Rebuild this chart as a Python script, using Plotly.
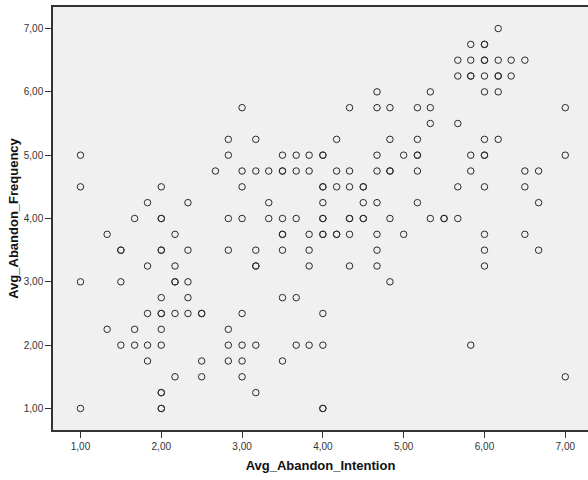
import plotly.graph_objects as go

# Avg_Abandon_Intention (x) and Avg_Abandon_Frequency (y), one entry per respondent
intention = [
    6.17,
    5.83, 6.0, 6.0,
    5.67, 5.83, 6.0, 6.0, 6.17, 6.33, 6.5,
    5.67, 5.83, 5.83, 6.0, 6.17, 6.17, 6.33,
    4.67, 5.33, 6.0, 6.17,
    3.0, 4.33, 4.67, 4.83, 5.17, 5.33, 7.0,
    5.33, 5.67,
    2.83, 3.17, 4.17, 4.83, 5.17, 6.0, 6.17,
    1.0, 2.83, 3.5, 3.67, 3.83, 4.0, 4.0, 4.67, 5.0, 5.17, 5.17, 5.83, 6.0, 6.0, 7.0,
    2.67, 3.0, 3.17, 3.33, 3.5, 3.5, 3.67, 3.83, 4.17, 4.33, 4.67, 4.83, 4.83, 5.17, 5.83, 6.5, 6.67,
    1.0, 2.0, 3.0, 4.0, 4.0, 4.17, 4.33, 4.5, 4.5, 5.67, 6.0, 6.5,
    1.83, 2.33, 3.33, 4.0, 4.5, 4.67, 5.17, 6.67,
    1.67, 2.0, 2.0, 2.83, 3.0, 3.33, 3.5, 3.67, 4.0, 4.0, 4.33, 4.33, 4.5, 4.5, 4.83, 5.33, 5.5, 5.5, 5.67,
    1.33, 2.17, 3.5, 3.5, 3.83, 4.0, 4.0, 4.17, 4.17, 4.33, 4.67, 5.0, 6.0, 6.5,
    1.5, 1.5, 2.0, 2.0, 2.33, 2.83, 3.17, 3.5, 3.83, 4.67, 6.0, 6.67,
    1.83, 2.17, 3.17, 3.17, 3.83, 4.33, 4.67, 6.0,
    1.0, 1.5, 2.17, 2.17, 2.33, 4.83,
    2.0, 2.33, 3.5, 3.67,
    1.83, 2.0, 2.0, 2.17, 2.33, 2.5, 2.5, 3.0, 4.0,
    1.33, 1.67, 2.0, 2.83,
    1.5, 1.67, 1.83, 2.0, 2.83, 3.0, 3.17, 3.67, 3.83, 4.0, 5.83,
    1.83, 2.5, 2.83, 3.0, 3.5,
    2.17, 2.5, 3.0, 7.0,
    2.0, 2.0, 3.17,
    1.0, 2.0, 2.0, 4.0, 4.0,
]
frequency = (
    [7.0] * 1 + [6.75] * 3 + [6.5] * 7 + [6.25] * 7 + [6.0] * 4 + [5.75] * 7
    + [5.5] * 2 + [5.25] * 7 + [5.0] * 15 + [4.75] * 17 + [4.5] * 12 + [4.25] * 8
    + [4.0] * 19 + [3.75] * 14 + [3.5] * 12 + [3.25] * 8 + [3.0] * 6 + [2.75] * 4
    + [2.5] * 9 + [2.25] * 4 + [2.0] * 11 + [1.75] * 5 + [1.5] * 4 + [1.25] * 3
    + [1.0] * 5
)
tick_vals = [1, 2, 3, 4, 5, 6, 7]
x_title = "Avg_Abandon_Intention"
y_title = "Avg_Abandon_Frequency"

fig = go.Figure(
    go.Scatter(
        x=intention,
        y=frequency,
        mode="markers",
        marker=dict(symbol="circle-open", size=6.5, color="#2a2a2a", line=dict(width=1.0, color="#2a2a2a")),
        hoverinfo="x+y",
    )
)

font_family = "Liberation Sans, Arial, sans-serif"
fig.update_layout(
    width=588,
    height=480,
    margin=dict(l=53, r=0, t=7, b=50),
    paper_bgcolor="white",
    plot_bgcolor="#F0F0F0",
    separators=",.",
    showlegend=False,
    font=dict(family=font_family, size=10, color="#333333"),
    xaxis=dict(
        range=[0.66, 0.66 + 535 / 80.8],
        tickvals=tick_vals,
        tickformat=".2f",
        ticks="outside",
        ticklen=6,
        tickcolor="#333333",
        showline=True,
        linecolor="#333333",
        linewidth=1.5,
        mirror=True,
        showgrid=False,
        zeroline=False,
        title=dict(text=x_title, font=dict(family=font_family, size=13, color="#111111", weight="bold"), standoff=10),
    ),
    yaxis=dict(
        range=[0.66, 7.34],
        tickvals=tick_vals,
        tickformat=".2f",
        ticks="outside",
        ticklen=6,
        tickcolor="#333333",
        showline=True,
        linecolor="#333333",
        linewidth=1.5,
        mirror=False,
        showgrid=False,
        zeroline=False,
        title=dict(text=y_title, font=dict(family=font_family, size=13, color="#111111", weight="bold"), standoff=2),
    ),
)

fig.write_html("out.html")
